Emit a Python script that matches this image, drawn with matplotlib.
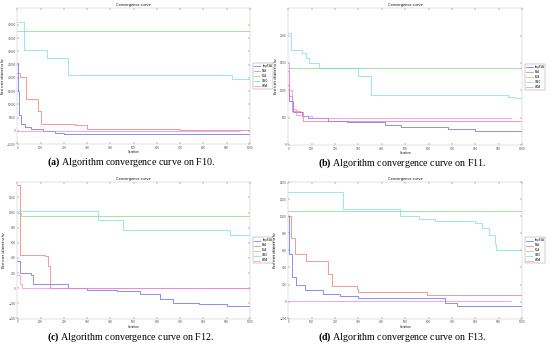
import numpy as np
import matplotlib
matplotlib.use("Agg")
import matplotlib.pyplot as plt

# serif captions with a bold panel tag
plt.rcParams["mathtext.fontset"] = "custom"
plt.rcParams["mathtext.rm"] = "Liberation Serif"
plt.rcParams["mathtext.bf"] = "Liberation Serif:bold"

# Legend names and line colours (shared by all four panels)
names = ["ImpSSA", "SSA", "SCA", "GWO", "WOA"]
colors = ["#6060f0", "#f07070", "#80d880", "#70e0e0", "#f080f0"]

# Panel (a) F10: breakpoints (iteration, value)
f10_x = [
    [0, 3, 7, 14, 35, 60, 110, 160, 200, 1000],
    [0, 10, 37, 90, 100, 250, 300, 700, 1000],
    [0, 1000],
    [0, 29, 126, 219, 921, 1000],
    [0, 957],
]
f10_y = [
    [25500, 15000, 6000, 2500, 1500, 600, 0, -750, -1250, -1400],
    [22000, 20500, 12000, 7500, 2500, 2250, 600, 400, 400],
    [37750, 37750],
    [41000, 30500, 27500, 21000, 19500, 19500],
    [100, 0],
]
f10_ticks = np.arange(-5000, 40001, 5000)

# Panel (b) F11
f11_x = [
    [0, 5, 20, 57, 85, 171, 250, 413, 480, 684, 800, 1000],
    [0, 5, 15, 50, 64, 1000],
    [0, 1000],
    [0, 14, 60, 75, 90, 130, 299, 353, 940, 970, 1000],
    [0, 5, 15, 35, 60, 100, 954],
]
f11_y = [
    [1100, 800, 600, 525, 500, 435, 410, 360, 330, 285, 255, 240],
    [1350, 900, 620, 600, 435, 425],
    [1405, 1405],
    [2040, 1740, 1675, 1600, 1500, 1405, 1265, 920, 875, 850, 850],
    [1500, 1000, 650, 550, 525, 500, 500],
]
f11_ticks = np.arange(0, 2001, 500)

# Panel (c) F12
f12_x = [
    [0, 10, 60, 69, 219, 300, 427, 527, 615, 670, 780, 900, 1000],
    [0, 10, 120, 130, 140, 1000],
    [0, 15, 1000],
    [0, 348, 455, 914, 1000],
    [0, 10, 20, 994],
]
f12_y = [
    [360, 206, 180, 52, 10, -20, -40, -80, -140, -190, -210, -230, -244],
    [1360, 446, 430, 300, 0, -10],
    [1000, 950, 940],
    [1014, 904, 772, 708, 708],
    [180, 60, 8, -10],
]
f12_ticks = np.arange(-400, 1201, 200)

# Panel (d) F13
f13_x = [
    [0, 5, 15, 35, 71, 150, 220, 299, 670, 720, 1000],
    [0, 10, 28, 78, 171, 188, 292, 300, 591, 1000],
    [0, 1000],
    [0, 235, 477, 560, 627, 800, 830, 860, 885, 890, 1000],
    [0, 954],
]
f13_y = [
    [1000, 560, 284, 200, 130, 84, 60, 44, -20, -46, -58],
    [1000, 750, 560, 470, 320, 186, 150, 108, 82, 82],
    [1064, 1064],
    [1280, 1080, 1000, 970, 940, 920, 860, 780, 680, 600, 600],
    [10, 10],
]
f13_ticks = np.arange(-200, 1401, 200)

panels = [
    (f10_x, f10_y, f10_ticks, (-5000, 46500), "a", "F10"),
    (f11_x, f11_y, f11_ticks, (0, 2500), "b", "F11"),
    (f12_x, f12_y, f12_ticks, (-400, 1400), "c", "F12"),
    (f13_x, f13_y, f13_ticks, (-200, 1400), "d", "F13"),
]

# axes rectangles in figure fractions [left, bottom, width, height]
rects = [
    [0.0315, 0.587, 0.423, 0.391],
    [0.524, 0.585, 0.4255, 0.391],
    [0.0315, 0.087, 0.423, 0.391],
    [0.524, 0.087, 0.4255, 0.391],
]

fig = plt.figure(figsize=(5.5, 3.49), dpi=100)

for (xs, ys, ticks, ylim, tag, fname), rect in zip(panels, rects):
    ax = fig.add_axes(rect)
    for xv, yv, c, n in zip(xs, ys, colors, names):
        ax.plot(xv, yv, drawstyle="steps-post", color=c, lw=0.5, label=n)
    ax.set_xlim(0, 1000)
    ax.set_ylim(*ylim)
    ax.set_xticks(np.arange(0, 1001, 100))
    ax.set_yticks(ticks)
    ax.tick_params(labelsize=2, direction="in", length=1.5, width=0.3,
                   top=True, right=True, pad=1.2, colors="#555555")
    for s in ax.spines.values():
        s.set_linewidth(0.3)
        s.set_color("#bbbbbb")
    ax.set_title("Convergence curve", fontsize=2.5, pad=1.5)
    ax.set_xlabel("Iteration", fontsize=2, labelpad=0.5)
    ax.set_ylabel("Best score obtained so far", fontsize=2, labelpad=1.5)
    leg = ax.legend(loc="center left", bbox_to_anchor=(1.008, 0.5),
                    fontsize=1.8, handlelength=2.5, borderpad=0.4,
                    labelspacing=0.4, fancybox=False, framealpha=1)
    leg.get_frame().set_linewidth(0.3)
    leg.get_frame().set_edgecolor("#888888")

    # panel caption underneath
    cx = rect[0] + rect[2] / 2 - 0.005
    cy = rect[1] - 0.052
    fig.text(cx, cy,
             r"$\mathbf{(" + tag + r")}$ Algorithm convergence curve on " + fname + ".",
             fontsize=7.2, family="Liberation Serif", ha="center", va="center")

fig.savefig("out.png", dpi=100)
